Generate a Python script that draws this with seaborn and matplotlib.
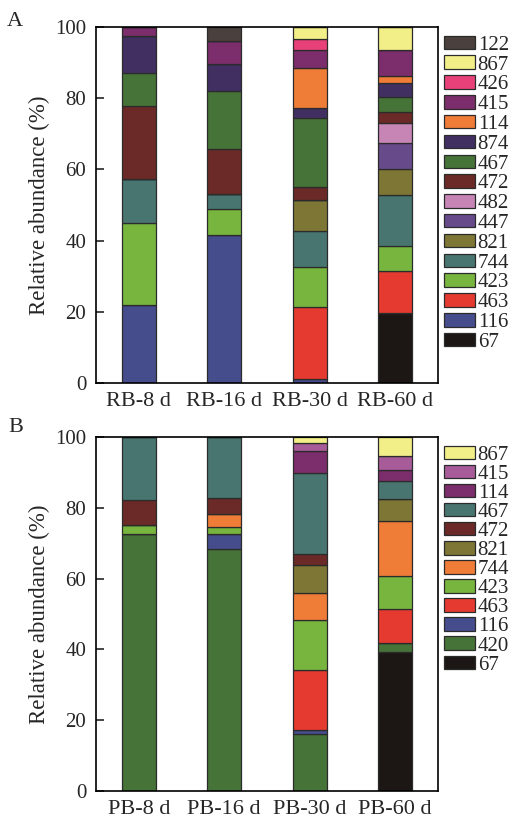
import matplotlib
matplotlib.use("Agg")
import matplotlib.pyplot as plt
from matplotlib.patches import Patch
import seaborn as sns
import numpy as np

sns.set_style("ticks")
plt.rcParams['font.family'] = ['Liberation Serif', 'DejaVu Serif']

# --- panel A data (bottom to top) ---
samples_a = ["RB-8 d", "RB-16 d", "RB-30 d", "RB-60 d"]
taxa_a = ["67", "116", "463", "423", "744", "821", "447", "482",
          "472", "467", "874", "114", "415", "426", "867", "122"]
colors_a = ["#1c1715", "#464d8c", "#e43a2f", "#78b53e", "#48756f", "#7e7634",
            "#674a8a", "#c685b4", "#6b2a27", "#467337", "#412f62", "#ef7d37",
            "#7b2e6b", "#e8417a", "#f2ee88", "#4a403d"]
vals_a = {
    "67":  [0, 0, 0, 19.6],
    "116": [22.0, 41.7, 1.0, 0],
    "463": [0, 0, 20.3, 11.8],
    "423": [22.8, 7.1, 11.3, 7.0],
    "744": [12.5, 4.4, 10.2, 14.4],
    "821": [0, 0, 8.5, 7.4],
    "447": [0, 0, 0, 7.2],
    "482": [0, 0, 0, 5.7],
    "472": [20.7, 12.5, 3.9, 3.0],
    "467": [9.1, 16.5, 19.4, 4.2],
    "874": [10.5, 7.4, 2.7, 3.9],
    "114": [0, 0, 11.2, 2.2],
    "415": [2.4, 6.6, 5.2, 7.1],
    "426": [0, 0, 3.1, 0],
    "867": [0, 0, 3.2, 6.5],
    "122": [0, 3.8, 0, 0],
}

# --- panel B data (bottom to top) ---
samples_b = ["PB-8 d", "PB-16 d", "PB-30 d", "PB-60 d"]
taxa_b = ["67", "420", "116", "463", "423", "744", "821",
          "472", "467", "114", "415", "867"]
colors_b = ["#1c1715", "#467337", "#464d8c", "#e43a2f", "#78b53e", "#ef7d37",
            "#7e7634", "#6b2a27", "#48756f", "#7b2e6b", "#a75c99", "#f2ee88"]
vals_b = {
    "67":  [0, 0, 0, 39.3],
    "420": [72.6, 68.3, 16.0, 2.4],
    "116": [0, 4.4, 1.2, 0],
    "463": [0, 0, 17.0, 9.6],
    "423": [2.6, 1.9, 14.0, 9.4],
    "744": [0, 3.6, 7.7, 15.6],
    "821": [0, 0, 8.0, 6.3],
    "472": [7.1, 4.5, 3.2, 0],
    "467": [17.7, 17.3, 22.7, 4.9],
    "114": [0, 0, 6.2, 3.2],
    "415": [0, 0, 2.5, 4.0],
    "867": [0, 0, 1.5, 5.3],
}


def stacked(ax, samples, taxa, colors, vals, spacing):
    bottom = np.zeros(len(samples))
    for t, c in zip(taxa, colors):
        h = np.array(vals[t], dtype=float)
        sns.barplot(x=samples, y=h, bottom=bottom, color=c, saturation=1,
                    width=0.4, edgecolor="#2b2b2b", linewidth=0.9,
                    errorbar=None, ax=ax)
        bottom += h
    ax.set_ylim(0, 100)
    ax.set_xlim(-0.5, 3.5)
    ax.set_yticks([0, 20, 40, 60, 80, 100])
    ax.tick_params(axis="y", direction="in", length=6, width=1.2,
                   labelsize=15, pad=7)
    ax.tick_params(axis="x", length=0, labelsize=16, pad=7)
    ax.set_ylabel("Relative abundance (%)", fontsize=16.5, labelpad=4)
    ax.set_xlabel("")
    for s in ax.spines.values():
        s.set_visible(True)
        s.set_linewidth(1.2)
        s.set_color("black")
    # legend lists taxa top-down, same as the stack
    handles = [Patch(facecolor=c, edgecolor="#2b2b2b", linewidth=0.9, label=t)
               for t, c in zip(taxa[::-1], colors[::-1])]
    ax.legend(handles=handles, loc="upper left",
              bbox_to_anchor=(0.995, 1.0), frameon=False, fontsize=15,
              handlelength=1.45, handleheight=0.62, handletextpad=0.15,
              labelspacing=spacing, borderaxespad=0.2, borderpad=0.2)


fig = plt.figure(figsize=(5.12, 8.23), dpi=100)
ax_a = fig.add_axes([0.1875, 0.535, 0.6675, 0.4318])
ax_b = fig.add_axes([0.1875, 0.0392, 0.6675, 0.4295])

stacked(ax_a, samples_a, taxa_a, colors_a, vals_a, 0.035)
stacked(ax_b, samples_b, taxa_b, colors_b, vals_b, 0.0)

fig.text(0.013, 0.985, "A", fontsize=16, va="top", ha="left")
fig.text(0.016, 0.492, "B", fontsize=16, va="top", ha="left")

fig.savefig("out.png", dpi=100)
